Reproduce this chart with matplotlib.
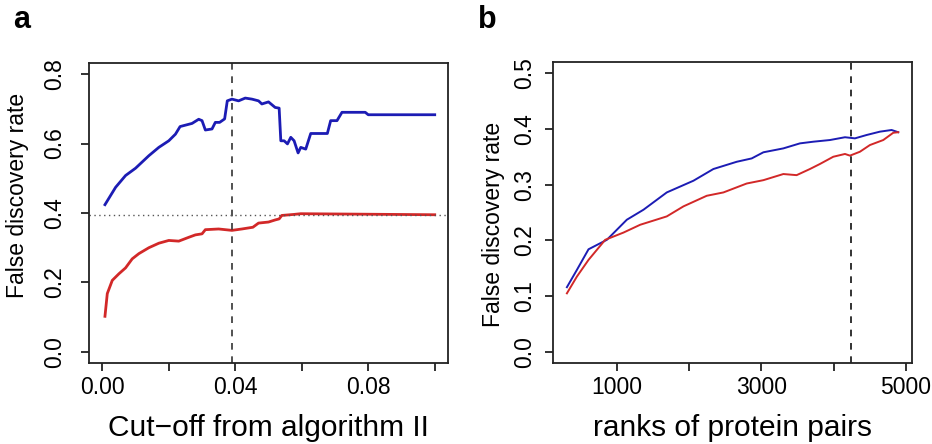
import matplotlib.pyplot as plt

plt.rcParams['font.family'] = ['Liberation Sans', 'DejaVu Sans']

# panel a: cut-off from algorithm II vs false discovery rate
cut_blue = [0.0008, 0.004, 0.007, 0.010, 0.014, 0.017, 0.020, 0.022, 0.0234, 0.027,
            0.029, 0.030, 0.031, 0.033, 0.034, 0.0353, 0.0368, 0.0376, 0.039, 0.041,
            0.043, 0.045, 0.047, 0.048, 0.050, 0.052, 0.0532, 0.0537, 0.0547, 0.0557,
            0.0567, 0.0577, 0.0589, 0.0597, 0.0612, 0.0627, 0.0677, 0.0687, 0.0706,
            0.0721, 0.0791, 0.080, 0.100]
fdr_blue = [0.424, 0.474, 0.508, 0.529, 0.565, 0.589, 0.608, 0.627, 0.649, 0.658,
            0.670, 0.666, 0.639, 0.642, 0.661, 0.661, 0.671, 0.723, 0.728, 0.723,
            0.731, 0.728, 0.723, 0.714, 0.720, 0.704, 0.702, 0.608, 0.608, 0.599,
            0.618, 0.608, 0.573, 0.589, 0.584, 0.629, 0.629, 0.666, 0.666,
            0.690, 0.690, 0.683, 0.683]
cut_red = [0.0008, 0.0015, 0.003, 0.005, 0.007, 0.009, 0.011, 0.014, 0.017, 0.020,
           0.023, 0.026, 0.028, 0.030, 0.031, 0.035, 0.039, 0.042, 0.0453, 0.047,
           0.050, 0.052, 0.0532, 0.054, 0.0577, 0.0597, 0.100]
fdr_red = [0.1025, 0.168, 0.206, 0.225, 0.242, 0.268, 0.283, 0.300, 0.313, 0.321,
           0.319, 0.330, 0.337, 0.340, 0.352, 0.354, 0.350, 0.354, 0.359, 0.371,
           0.374, 0.380, 0.383, 0.393, 0.396, 0.398, 0.395]
cutoff_line = 0.039
fdr_level = 0.394

# panel b: ranks of protein pairs vs false discovery rate
rank_blue = [309, 447, 608, 862, 1138, 1369, 1691, 2060, 2336, 2659, 2866, 3028,
             3304, 3534, 3719, 3949, 4157, 4295, 4456, 4640, 4802, 4894]
fdr_rank_blue = [0.116, 0.147, 0.184, 0.201, 0.237, 0.255, 0.286, 0.307, 0.328,
                 0.341, 0.347, 0.358, 0.365, 0.374, 0.377, 0.380, 0.385, 0.383,
                 0.389, 0.395, 0.398, 0.394]
rank_red = [309, 447, 608, 839, 1092, 1323, 1691, 1922, 2244, 2475, 2797, 3028,
            3304, 3488, 3672, 3810, 3995, 4157, 4226, 4364, 4502, 4687, 4825, 4894]
fdr_rank_red = [0.105, 0.135, 0.165, 0.201, 0.214, 0.228, 0.243, 0.261, 0.280,
                0.286, 0.302, 0.308, 0.319, 0.317, 0.328, 0.337, 0.350, 0.355,
                0.352, 0.359, 0.371, 0.380, 0.393, 0.394]
rank_line = 4236

blue = '#1c1cb4'
red = '#d22828'

fig = plt.figure(figsize=(9.32, 4.44), dpi=100)
ax1 = fig.add_axes([0.0955, 0.1824, 0.3852, 0.6757])
ax2 = fig.add_axes([0.5933, 0.1824, 0.3852, 0.6780])

# panel a
ax1.plot(cut_blue, fdr_blue, color=blue, lw=2)
ax1.plot(cut_red, fdr_red, color=red, lw=2)
ax1.axvline(cutoff_line, color='#333333', ls=(0, (4, 4)), lw=1.2)
ax1.axhline(fdr_level, color='#555555', ls=(0, (1, 2.5)), lw=1)
ax1.set_xlim(-0.004, 0.104)
ax1.set_ylim(-0.032, 0.832)
ax1.set_xticks([0.00, 0.02, 0.04, 0.06, 0.08, 0.10])
ax1.set_xticklabels(['0.00', '', '0.04', '', '0.08', ''])
ax1.set_yticks([0.0, 0.2, 0.4, 0.6, 0.8])
ax1.set_yticklabels(['0.0', '0.2', '0.4', '0.6', '0.8'])
ax1.set_xlabel('Cut\u2212off from algorithm II', fontsize=21.5)
ax1.set_ylabel('False discovery rate', fontsize=16.5)
ax1.xaxis.set_label_coords(0.5, -0.243)
ax1.yaxis.set_label_coords(-0.198, 0.56)

# panel b
ax2.plot(rank_blue, fdr_rank_blue, color=blue, lw=1.4)
ax2.plot(rank_red, fdr_rank_red, color=red, lw=1.4)
ax2.axvline(rank_line, color='#111111', ls=(0, (4, 4)), lw=1.2)
ax2.set_xlim(116, 5084)
ax2.set_ylim(-0.02, 0.52)
ax2.set_xticks([1000, 2000, 3000, 4000, 5000])
ax2.set_xticklabels(['1000', '', '3000', '', '5000'])
ax2.set_yticks([0.0, 0.1, 0.2, 0.3, 0.4, 0.5])
ax2.set_yticklabels(['0.0', '0.1', '0.2', '0.3', '0.4', '0.5'])
ax2.set_xlabel('ranks of protein pairs', fontsize=21.5)
ax2.set_ylabel('False discovery rate', fontsize=16.5)
ax2.xaxis.set_label_coords(0.5, -0.243)
ax2.yaxis.set_label_coords(-0.167, 0.46)

for ax, ypad in ((ax1, 11), (ax2, 6.5)):
    for s in ax.spines.values():
        s.set_linewidth(1.3)
        s.set_color('#222222')
    ax.tick_params(axis='both', direction='out', length=5.8, width=1.3,
                   labelsize=16.5, color='#222222')
    ax.tick_params(axis='x', pad=3.6)
    ax.tick_params(axis='y', labelrotation=90, pad=ypad)
    for lab in ax.get_yticklabels():
        lab.set_verticalalignment('center')
    ax.xaxis.label.set_verticalalignment('baseline')
    ax.yaxis.label.set_verticalalignment('center')

fig.text(0.014, 0.937, 'a', fontsize=22, fontweight='bold', va='baseline')
fig.text(0.513, 0.937, 'b', fontsize=22, fontweight='bold', va='baseline')

fig.savefig('out.png', dpi=100)
